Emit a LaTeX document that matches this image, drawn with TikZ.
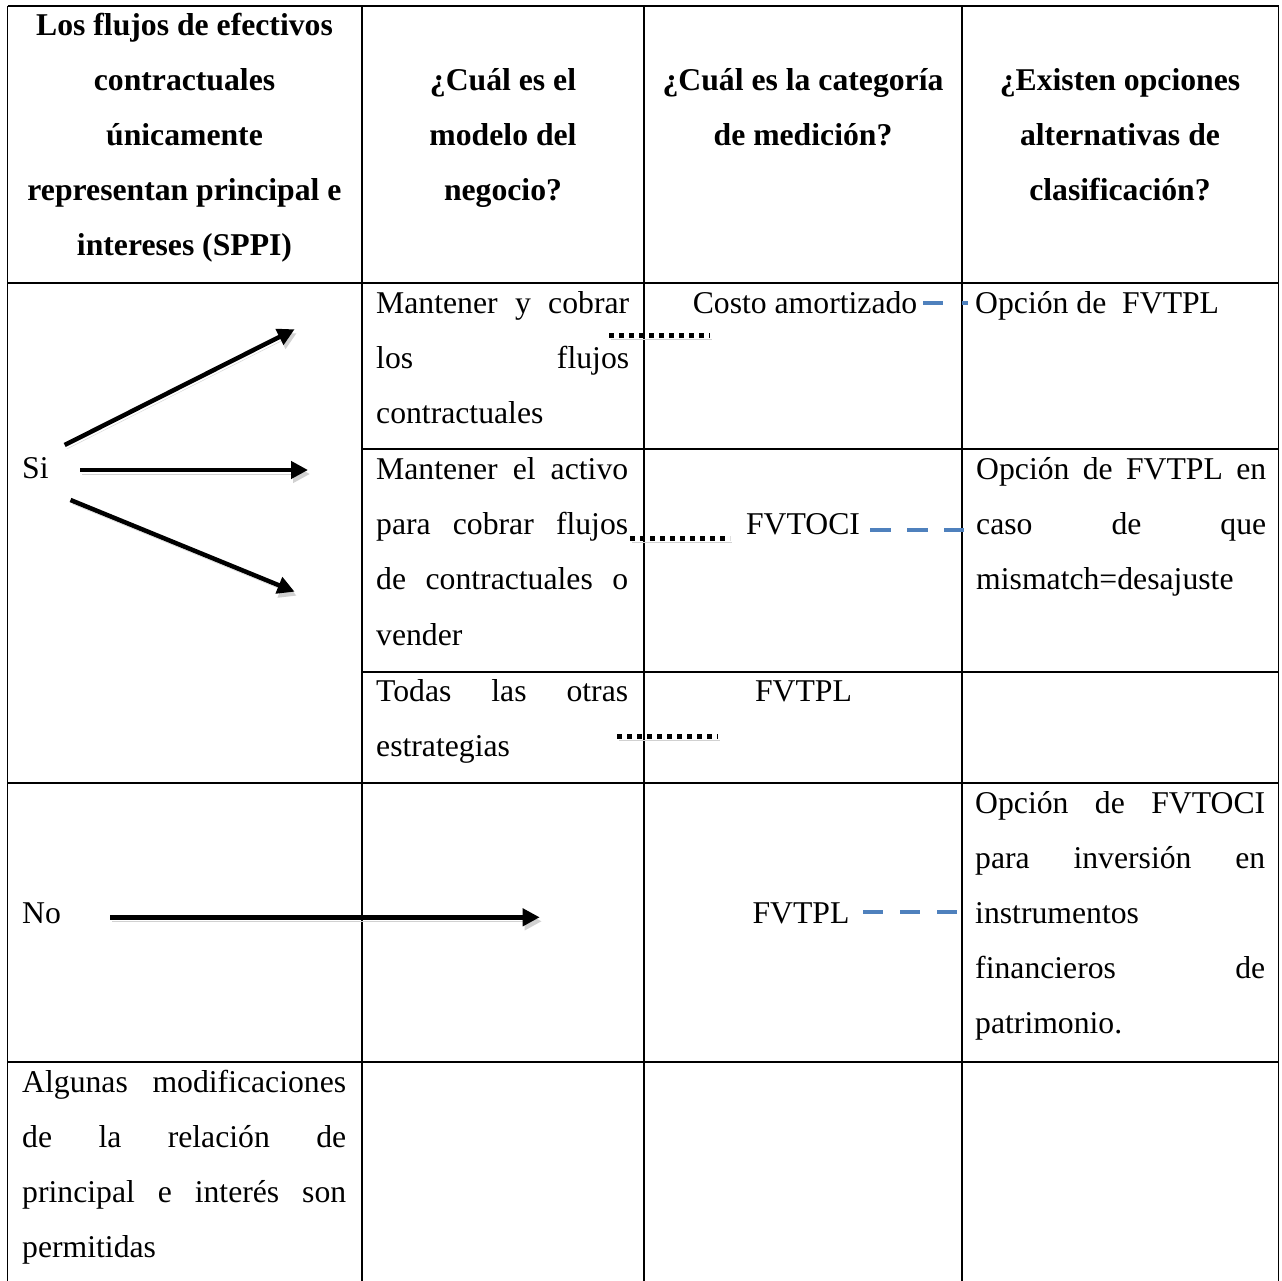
\documentclass[tikz,border=0pt]{standalone}
\usepackage{fontspec}
\setmainfont{Liberation Serif}
\usetikzlibrary{arrows.meta}
\definecolor{dashblue}{HTML}{4F81BD}
\tikzset{
  grid/.style={line width=1.8pt, black},
  txt/.style={inner sep=0pt, anchor=base west, font=\fontsize{31.7}{55}\selectfont},
  ctxt/.style={txt, anchor=base},
  htxt/.style={inner sep=0pt, anchor=base, font=\fontsize{31.7}{55}\selectfont\bfseries},
  softshadow/.style={preaction={draw=black!18, transform canvas={shift={(2pt,-4pt)}}}},
  arr/.style={line width=4.5pt, -{Triangle[length=17pt,width=17pt]}, softshadow},
  dotline/.style={line width=5pt, dash pattern=on 5pt off 5pt, softshadow},
  bdash/.style={line width=4.5pt, color=dashblue},
}
\newcommand{\jl}[2]{\makebox[#1pt][s]{#2}}
\begin{document}
\begin{tikzpicture}[x=1pt,y=-1pt]
\useasboundingbox (0,0) rectangle (1282,1281);
\fill[white] (0,0) rectangle (1282,1281);
% table grid
\draw[grid] (7.5,6) -- (1278.5,6);
\draw[grid] (7.5,283) -- (1278.5,283);
\draw[grid] (362,449) -- (1278.5,449);
\draw[grid] (362,672) -- (1278.5,672);
\draw[grid] (7.5,783) -- (1278.5,783);
\draw[grid] (7.5,1062) -- (1278.5,1062);
\draw[grid] (7.5,6) -- (7.5,1281);
\draw[grid] (362,6) -- (362,1281);
\draw[grid] (644,6) -- (644,1281);
\draw[grid] (962,6) -- (962,1281);
\draw[grid] (1278.5,6) -- (1278.5,1281);
% headers
\node[htxt] (h1a) at (184.5,36) {Los flujos de efectivos};
\node[htxt] (h1b) at (184.5,91) {contractuales};
\node[htxt] (h1c) at (184.5,146) {únicamente};
\node[htxt] (h1d) at (184.5,201) {representan principal e};
\node[htxt] (h1e) at (184.5,256) {intereses (SPPI)};
\node[htxt] (h2a) at (503,91) {¿Cuál es el};
\node[htxt] (h2b) at (503,146) {modelo del};
\node[htxt] (h2c) at (503,201) {negocio?};
\node[htxt] (h3a) at (803,91) {¿Cuál es la categoría};
\node[htxt] (h3b) at (803,146) {de medición?};
\node[htxt] (h4a) at (1120,91) {¿Existen opciones};
\node[htxt] (h4b) at (1120,146) {alternativas de};
\node[htxt] (h4c) at (1120,201) {clasificación?};
% column 1
\node[txt] (si) at (22,478) {Si};
\node[txt] (no) at (22,923) {No};
\node[txt] (alg1) at (22,1092) {\jl{324}{Algunas modificaciones}};
\node[txt] (alg2) at (22,1147) {\jl{324}{de la relación de}};
\node[txt] (alg3) at (22,1202) {\jl{324}{principal e interés son}};
\node[txt] (alg4) at (22,1257) {permitidas};
% column 2
\node[txt] (m1a) at (376,313) {\jl{253}{Mantener y cobrar}};
\node[txt] (m1b) at (376,368) {\jl{253}{los flujos}};
\node[txt] (m1c) at (376,423) {contractuales};
\node[txt] (m2a) at (376,479) {\jl{252}{Mantener el activo}};
\node[txt] (m2b) at (376,534) {\jl{252}{para cobrar flujos}};
\node[txt] (m2c) at (376,589) {\jl{252}{de contractuales o}};
\node[txt] (m2d) at (376,645) {vender};
\node[txt] (m3a) at (376,701) {\jl{252}{Todas las otras}};
\node[txt] (m3b) at (376,756) {estrategias};
% column 3
\node[ctxt] (costo) at (805,313) {Costo amortizado};
\node[ctxt] (fvtoci) at (803,534) {FVTOCI};
\node[ctxt] (fvtpl1) at (803.5,701) {FVTPL};
\node[ctxt] (fvtpl2) at (801,923) {FVTPL};
% column 4
\node[txt] (o1) at (975,313) {Opción de\ \ FVTPL};
\node[txt] (o2a) at (976,479) {\jl{290}{Opción de FVTPL en}};
\node[txt] (o2b) at (976,534) {\jl{290}{caso de que}};
\node[txt] (o2c) at (976,589) {mismatch=desajuste};
\node[txt] (o3a) at (975,813) {\jl{290}{Opción de FVTOCI}};
\node[txt] (o3b) at (975,868) {\jl{290}{para inversión en}};
\node[txt] (o3c) at (975,923) {instrumentos};
\node[txt] (o3d) at (975,978) {\jl{290}{financieros de}};
\node[txt] (o3e) at (975,1033) {patrimonio.};
% arrow end points
\coordinate (a1s) at (64.7,445);  \coordinate (a1e) at (294.6,329.3);
\coordinate (a2s) at (80.4,470);  \coordinate (a2e) at (308,470);
\coordinate (a3s) at (70.5,500);  \coordinate (a3e) at (294.6,591.7);
\coordinate (a4s) at (110.4,917.3); \coordinate (a4e) at (539.7,917.3);
\draw[arr] (a1s) -- (a1e);
\draw[arr] (a2s) -- (a2e);
\draw[arr] (a3s) -- (a3e);
\draw[arr] (a4s) -- (a4e);
% dotted links
\coordinate (d1s) at (609,335); \coordinate (d1e) at (710,335);
\coordinate (d2s) at (630,538); \coordinate (d2e) at (730,538);
\coordinate (d3s) at (617,736); \coordinate (d3e) at (718,736);
\draw[dotline] (d1s) -- (d1e);
\draw[dotline] (d2s) -- (d2e);
\draw[dotline] (d3s) -- (d3e);
% blue dashed links
\coordinate (b1s) at (923,303); \coordinate (b1e) at (968,303);
\coordinate (b2s) at (870,530); \coordinate (b2e) at (964,530);
\coordinate (b3s) at (863,912); \coordinate (b3e) at (958,912);
\draw[bdash, dash pattern=on 20pt off 19pt] (b1s) -- (b1e);
\draw[bdash, dash pattern=on 21pt off 16pt] (b2s) -- (b2e);
\draw[bdash, dash pattern=on 20pt off 17pt] (b3s) -- (b3e);
\end{tikzpicture}
\end{document}
